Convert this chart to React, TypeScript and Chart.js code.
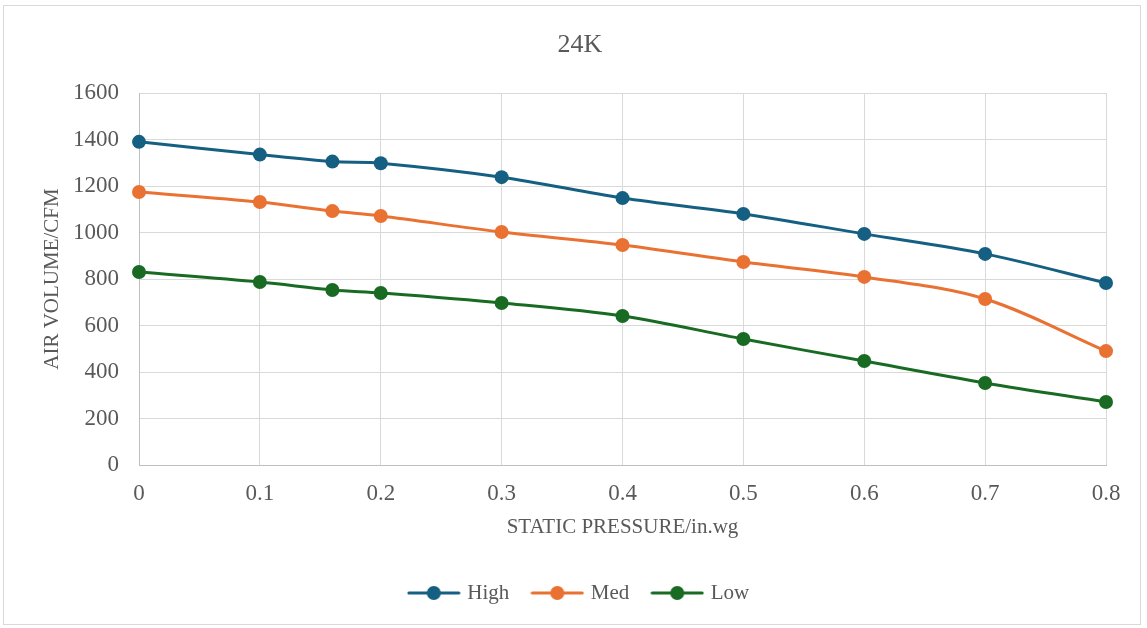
import React, { useEffect, useRef } from "react";
import { Chart, registerables } from "chart.js";

Chart.register(...registerables);

const pressures = [0, 0.1, 0.16, 0.2, 0.3, 0.4, 0.5, 0.6, 0.7, 0.8];
const highValues = [1390, 1335, 1305, 1298, 1238, 1148, 1080, 994, 908, 783];
const medValues = [1174, 1131, 1092, 1071, 1002, 946, 873, 809, 714, 490];
const lowValues = [830, 787, 753, 740, 697, 641, 542, 447, 353, 271];
const seriesNames = ["High", "Med", "Low"];
const seriesColors = ["#156082", "#E97132", "#196B24"];
const chartTitle = "24K";
const xTitle = "STATIC PRESSURE/in.wg";
const yTitle = "AIR VOLUME/CFM";

const FONT = "'Liberation Serif', 'DejaVu Serif', serif";
const TEXT = "#595959";

function legendMarker(color: string): HTMLCanvasElement {
  const c = document.createElement("canvas");
  c.width = 54;
  c.height = 18;
  const ctx = c.getContext("2d")!;
  ctx.strokeStyle = color;
  ctx.lineWidth = 3;
  ctx.lineCap = "round";
  ctx.beginPath();
  ctx.moveTo(2, 9);
  ctx.lineTo(52, 9);
  ctx.stroke();
  ctx.fillStyle = color;
  ctx.beginPath();
  ctx.arc(27, 9, 7, 0, Math.PI * 2);
  ctx.fill();
  return c;
}

export default function App() {
  const ref = useRef<HTMLCanvasElement | null>(null);

  useEffect(() => {
    if (!ref.current) return;
    const all = [highValues, medValues, lowValues];
    const markers = seriesColors.map(legendMarker);
    const chart = new Chart(ref.current, {
      type: "line",
      data: {
        datasets: all.map((vals, i) => ({
          label: seriesNames[i],
          data: pressures.map((p, j) => ({ x: p, y: vals[j] })),
          borderColor: seriesColors[i],
          backgroundColor: seriesColors[i],
          pointBackgroundColor: seriesColors[i],
          pointBorderColor: seriesColors[i],
          pointRadius: 7,
          pointBorderWidth: 0,
          borderWidth: 3,
          tension: 0.33,
          clip: false as any,
          yAxisID: "y",
        })),
      },
      options: {
        animation: false,
        responsive: false,
        devicePixelRatio: 1,
        layout: { padding: { left: 20, right: 7, top: 0, bottom: 14.5 } },
        plugins: {
          title: {
            display: true,
            text: chartTitle,
            color: TEXT,
            font: { family: FONT, size: 26, weight: "normal" },
            padding: { top: 29.4, bottom: 32.4 },
          },
          legend: {
            display: true,
            position: "bottom",
            labels: {
              usePointStyle: true,
              pointStyleWidth: 46,
              padding: 25,
              color: TEXT,
              font: { family: FONT, size: 21 },
              generateLabels: (ch: any) =>
                ch.data.datasets.map((ds: any, i: number) => ({
                  text: ds.label,
                  fillStyle: ds.borderColor,
                  strokeStyle: ds.borderColor,
                  fontColor: TEXT,
                  lineWidth: 0,
                  pointStyle: markers[i],
                  hidden: false,
                  datasetIndex: i,
                })),
            },
          },
          tooltip: { enabled: false },
        },
        scales: {
          x: {
            type: "linear",
            min: 0,
            max: 0.8,
            afterFit: (s: any) => {
              s.height = 92.5;
            },
            ticks: {
              stepSize: 0.1,
              padding: 15,
              color: TEXT,
              font: { family: FONT, size: 23 },
              callback: (v: any) => String(Math.round(Number(v) * 10) / 10),
            },
            grid: { color: "#D9D9D9", lineWidth: 1, drawTicks: false },
            border: { color: "#BFBFBF", width: 1 },
            title: {
              display: true,
              text: xTitle,
              color: TEXT,
              font: { family: FONT, size: 21 },
              padding: { top: 0, bottom: 17.9 },
            },
          },
          y: {
            type: "linear",
            position: "left",
            min: 0,
            max: 1600,
            afterFit: (s: any) => {
              s.width = 119;
            },
            ticks: {
              stepSize: 200,
              padding: 20,
              color: TEXT,
              font: { family: FONT, size: 23 },
              callback: (v: any) => String(v),
            },
            grid: { color: "#D9D9D9", lineWidth: 1, drawTicks: false },
            border: { color: "#BFBFBF", width: 1 },
            title: {
              display: true,
              text: yTitle,
              color: TEXT,
              font: { family: FONT, size: 21 },
              padding: { top: 19.4, bottom: 0 },
            },
          },
          yR: {
            type: "linear",
            position: "right",
            display: true,
            min: 0,
            max: 1,
            afterFit: (s: any) => {
              s.width = 34;
            },
            ticks: { display: false },
            grid: { display: false, drawTicks: false },
            border: { display: false },
          },
        },
      } as any,
    });
    return () => chart.destroy();
  }, []);

  return (
    <div style={{ position: "fixed", left: 0, top: 0, width: 1147, height: 628, background: "#fff" }}>
      <div
        style={{
          position: "absolute",
          left: 3,
          top: 5,
          width: 1138,
          height: 620,
          border: "1px solid #D9D9D9",
          boxSizing: "border-box",
        }}
      />
      <canvas
        ref={ref}
        width={1147}
        height={628}
        style={{ position: "absolute", left: 0, top: 0, width: 1147, height: 628 }}
      />
    </div>
  );
}
